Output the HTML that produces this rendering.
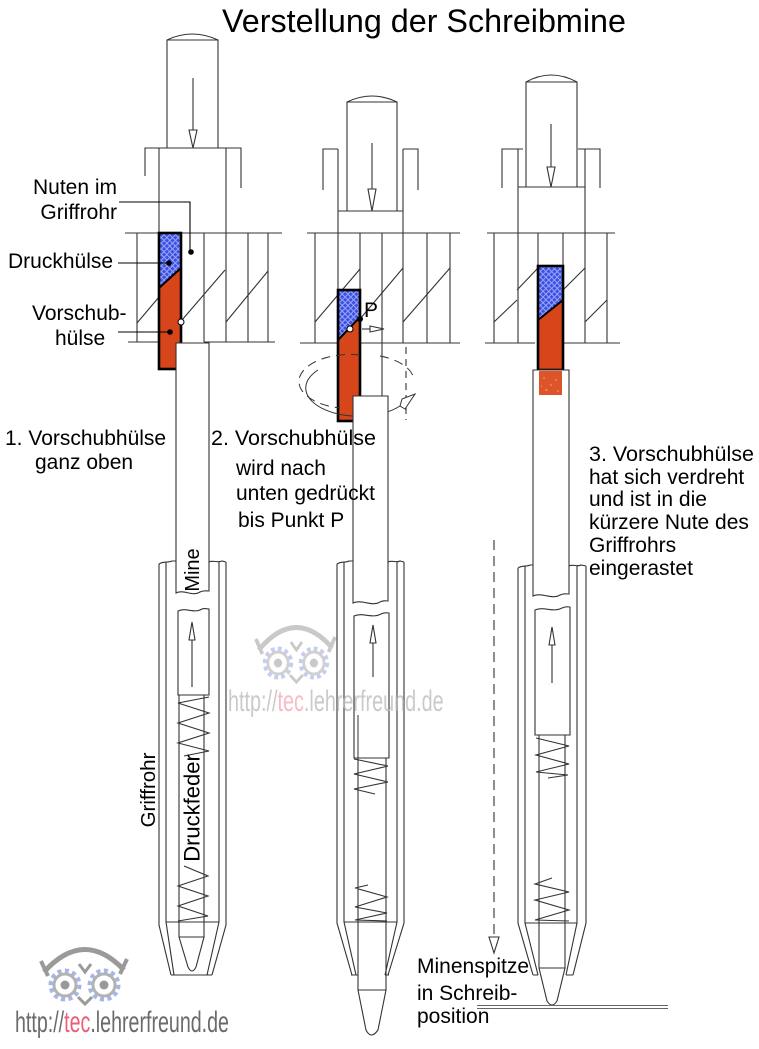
<!DOCTYPE html>
<html><head><meta charset="utf-8"><style>
html,body{margin:0;padding:0;background:#fff;}
svg{display:block;}
text{font-family:"Liberation Sans",Arial,sans-serif;}
</style></head><body>
<svg width="759" height="1049" viewBox="0 0 759 1049" xmlns="http://www.w3.org/2000/svg">
<defs>
<pattern id="xh" width="4" height="4" patternUnits="userSpaceOnUse" patternTransform="rotate(45)">
<rect width="4" height="4" fill="#3b4fe4"/>
<path d="M0,2 H4 M2,0 V4" stroke="#9aa6f4" stroke-width="1"/>
</pattern>
</defs>
<rect width="759" height="1049" fill="#fff"/>

<!-- bottom-left logo -->
<g>
<path d="M44,972 Q84,928 124,970" stroke="#9a9a9a" stroke-width="5" fill="none"/>
<path d="M41,961 L48,976 M127,959 L120,974" stroke="#9a9a9a" stroke-width="4"/>
<circle cx="65" cy="985" r="14" fill="none" stroke="#a7b6ea" stroke-width="5" stroke-dasharray="4 3.3"/>
<circle cx="65" cy="985" r="11" fill="#fff" stroke="#b3b3b3" stroke-width="3"/>
<circle cx="65" cy="985" r="4.5" fill="#999"/>
<circle cx="104" cy="985" r="14" fill="none" stroke="#a7b6ea" stroke-width="5" stroke-dasharray="4 3.3"/>
<circle cx="104" cy="985" r="11" fill="#fff" stroke="#b3b3b3" stroke-width="3"/>
<circle cx="104" cy="985" r="4.5" fill="#999"/>
<path d="M79,964 L85,972 L91,964 M78,997 L85,1004 L92,997" stroke="#9a9a9a" stroke-width="3" fill="none"/>
</g>
<text transform="translate(15,1032) scale(0.655,1)" font-size="30" fill="#6b6b6b">http://<tspan fill="#ec5f79">tec</tspan>.lehrerfreund.de</text>

<!-- Title -->
<text x="222" y="32" font-size="32.3" fill="#000">Verstellung der Schreibmine</text>

<g stroke="#333" stroke-width="1.1" fill="none">
<!-- ============ PEN 1 ============ -->
<path d="M167,148 V40 Q192,28 218,40 V148"/>
<path d="M167,40 H218"/>
<path d="M145,176 V148 H241 V188"/>
<path d="M159,148 V233 M226,148 V342"/>
<path d="M125,233 H282 M128,342 H159 M204,342 H275"/>
<path d="M137,233 V342 M181,233 V342 M204,233 V342 M248,233 V342 M268,233 V342"/>
<path d="M137,323 L159,297 M182,320 L225,270 M226,322 L268,271"/>
<path d="M159,564 C163,561 168,563 172,561 L176,561"/>
<path d="M209,562 C213,560 218,563 222,561 L226,562"/>
<path d="M159,564 V925 L171,975 M166,562 V922 L174,975 M226,562 V925 L212,975 M219,562 V922 L207,975 M171,975 H212 M166,922 H219"/>
<path d="M179,695 V937 M204,695 V937 M179,937 H204 L196,967 M179,937 L188,967 M188,967 Q192,975 196,967"/>
<path d="M209,697 L178,703 L209,713 L178,723 L209,733 L178,743 L209,751 L184,756"/>
<path d="M184,866 L208,876 L178,886 L208,896 L178,906 L208,916 L178,921"/>

<!-- ============ PEN 2 ============ -->
<path d="M347,211 V102 Q372,90 397,102 V211"/>
<path d="M347,102 H397"/>
<path d="M323,190 V149 H338 M418,190 V149 H403"/>
<path d="M338,149 V290 M403,149 V343 M338,211 H403"/>
<path d="M307,233 H460 M300,343 H338 M360,343 H460"/>
<path d="M315,233 V343 M360,233 V420 M382,233 V396 M427,233 V343 M450,233 V343"/>
<path d="M315,322 L360,269 M360,319 L403,268 M403,322 L450,268"/>
<path d="M406,347 V420" stroke-dasharray="7 5"/>
<path d="M337,564 C341,561 346,563 349,561 L353,561"/>
<path d="M388,562 C392,560 397,563 400,561 L404,562"/>
<path d="M337,564 V923 L352,975 M344,562 V922 L356,975 M404,562 V923 L388,975 M397,562 V922 L385,975 M351,975 H358 M385,975 H389 M344,922 H397"/>
<path d="M358,715 V990 M386,758 V990 M358,990 H386 L378,1030 M358,990 L366,1030 M366,1030 Q371,1040 378,1030"/>
<path d="M354,759 L388,766 L354,774 L388,782 L354,789 L375,794"/>
<path d="M368,885 L355,888 L387,897 L355,907 L387,913 L355,920 L387,921"/>

<!-- ============ PEN 3 ============ -->
<path d="M526,187 V82 Q551,68 577,82 V187"/>
<path d="M526,82 H577"/>
<path d="M502,188 V149 H523 M600,188 V149 H578"/>
<path d="M518,149 V343 M585,149 V343 M518,187 H585"/>
<path d="M487,233 H615 M485,343 H535 M563,343 H620"/>
<path d="M494,233 V343 M538,233 V266 M563,233 V266 M607,233 V343"/>
<path d="M494,322 L517,300 M517,290 L538,268 M563,290 L585,268 M585,322 L607,300"/>
<path d="M518,568 C522,565 527,567 530,565 L533,565"/>
<path d="M569,566 C573,564 578,567 581,565 L586,566"/>
<path d="M518,568 V923 L533,975 M525,566 V923 L538,975 M586,566 V923 L573,975 M577,566 V923 L566,975 M533,975 H538 M566,975 H573 M525,923 H577"/>
<path d="M539,735 V968 M565,735 V968 M539,968 H565 L557,1001 M539,968 L547,1001 M547,1001 Q552,1009 557,1001"/>
<path d="M536,738 L569,746 L536,755 L569,764 L536,772 L568,775 L548,778"/>
<path d="M552,878 L535,884 L569,892 L535,900 L569,910 L535,920 L569,921"/>
<path d="M477,1005.5 H668 M477,1008.5 H668" stroke="#666"/>
<path d="M494,540 V937" stroke-dasharray="10 6"/>
<path d="M489,937 L499,937 L494,953 Z" fill="#fff"/>
</g>

<!-- sleeves -->
<polygon points="159,233 181,233 181,268 159,288" fill="url(#xh)"/>
<polygon points="159,288 181,268 181,369 159,369" fill="#d6461a"/>
<rect x="159" y="233" width="22" height="136" fill="none" stroke="#000" stroke-width="2.6"/>
<line x1="159" y1="288" x2="181" y2="268" stroke="#000" stroke-width="2"/>
<polygon points="338,290 360,290 360,317 338,340" fill="url(#xh)"/>
<polygon points="338,340 360,317 360,421 338,421" fill="#d6461a"/>
<rect x="338" y="290" width="22" height="131" fill="none" stroke="#000" stroke-width="2.6"/>
<line x1="338" y1="340" x2="360" y2="317" stroke="#000" stroke-width="2"/>
<polygon points="538,266 563,266 563,300 538,320" fill="url(#xh)"/>
<polygon points="538,320 563,300 563,370 538,370" fill="#d6461a"/>
<rect x="538" y="266" width="25" height="104" fill="none" stroke="#000" stroke-width="2.6"/>
<line x1="538" y1="320" x2="563" y2="300" stroke="#000" stroke-width="2"/>

<!-- rotation ellipse pen 2 -->
<g stroke="#333" stroke-width="1" fill="none">
<path d="M360,355 A51,27 0 0 0 340,408" stroke-dasharray="9 6"/>
<path d="M318,370 A51,27 0 0 0 400,406"/>
<path d="M380,356 A51,27 0 0 1 414,380" stroke-dasharray="9 6"/>
<path d="M400,406 L402,399 L415,394 L405,409 Z" fill="#fff"/>
</g>

<!-- mines -->
<g stroke="#333" stroke-width="1.1" fill="#fff">
<path d="M176,343 L176,593 C184,589 192,597 200,592 C204,590 207,591 209,591 L209,343 Z"/>
<path d="M178,695 L178,611 C186,607 194,614 202,609 C205,608 207,609 209,609 L209,695 Z"/>
<path d="M353,396 L353,603 C362,599 372,607 380,602 C384,600 386,601 388,601 L388,396 Z"/>
<path d="M354,758 L354,616 C363,612 372,619 381,614 C385,612 387,613 389,613 L389,758 Z"/>
<path d="M533,370 L533,596 C542,592 552,600 560,595 C564,593 566,594 569,594 L569,370 Z"/>
<path d="M535,735 L535,610 C544,606 553,613 562,608 C566,606 568,607 570,607 L570,735 Z"/>
</g>
<rect x="539" y="371" width="23" height="24" fill="#dc5428"/>
<path d="M543,378 h2 M550,385 h2 M545,390 h3 M555,380 h2 M557,391 h2 M541,386 h1" stroke="#f0a080" stroke-width="1"/>
<line x1="358" y1="715" x2="358" y2="758" stroke="#333" stroke-width="1"/>

<!-- arrows -->
<g stroke="#333" stroke-width="1.1" fill="#fff">
<line x1="193" y1="78" x2="193" y2="130"/>
<path d="M189,130 L197,130 L193,148 Z"/>
<line x1="372" y1="143" x2="372" y2="189"/>
<path d="M368,189 L376,189 L372,211 Z"/>
<line x1="551" y1="124" x2="551" y2="167"/>
<path d="M547,167 L555,167 L551,187 Z"/>
<line x1="192" y1="640" x2="192" y2="687"/>
<path d="M192,622 L189,640 L195,640 Z"/>
<line x1="373" y1="643" x2="373" y2="677"/>
<path d="M373,625 L370,643 L376,643 Z"/>
<line x1="552" y1="645" x2="552" y2="683"/>
<path d="M552,627 L549,645 L555,645 Z"/>
<line x1="362" y1="329" x2="370" y2="329"/>
<path d="M370,326 L384,329 L370,332 Z"/>
</g>

<!-- middle watermark (on top, translucent) -->
<g opacity="0.45">
<g transform="translate(255,623) scale(0.92,1) translate(-40,-945)">
<path d="M44,972 Q84,928 124,970" stroke="#8a8a8a" stroke-width="5" fill="none"/>
<path d="M41,961 L48,976 M127,959 L120,974" stroke="#8a8a8a" stroke-width="4"/>
<circle cx="65" cy="985" r="14" fill="none" stroke="#7d93e0" stroke-width="5" stroke-dasharray="4 3.3"/>
<circle cx="65" cy="985" r="11" fill="none" stroke="#9a9a9a" stroke-width="3"/>
<circle cx="65" cy="985" r="4.5" fill="#888"/>
<circle cx="104" cy="985" r="14" fill="none" stroke="#7d93e0" stroke-width="5" stroke-dasharray="4 3.3"/>
<circle cx="104" cy="985" r="11" fill="none" stroke="#9a9a9a" stroke-width="3"/>
<circle cx="104" cy="985" r="4.5" fill="#888"/>
<path d="M79,964 L85,972 L91,964 M78,997 L85,1004 L92,997" stroke="#8a8a8a" stroke-width="3" fill="none"/>
</g>
</g>
<text transform="translate(228,711) scale(0.66,1)" font-size="30" fill="#b8b8b8" fill-opacity="0.75">http://<tspan fill="#f4a5b3">tec</tspan>.lehrerfreund.de</text>

<!-- dots and pointers -->
<g stroke="#000" stroke-width="1.1">
<path d="M119,202 H190 V250" fill="none"/>
<path d="M118,263 H169 M118,332 H170" fill="none"/>
</g>
<circle cx="191" cy="252" r="2.8" fill="#000"/>
<circle cx="169" cy="263" r="2.8" fill="#000"/>
<circle cx="170" cy="332" r="2.8" fill="#000"/>
<circle cx="181" cy="322" r="3" fill="#fff" stroke="#000" stroke-width="1"/>
<circle cx="360" cy="319" r="3" fill="#000"/>
<circle cx="350" cy="329" r="3" fill="#fff" stroke="#000" stroke-width="1"/>

<!-- labels -->
<g font-size="21" fill="#000">
<text x="117" y="194" text-anchor="end">Nuten im</text>
<text x="117" y="219" text-anchor="end">Griffrohr</text>
<text x="8" y="268">Druckhülse</text>
<text x="32" y="320">Vorschub-</text>
<text x="55" y="345">hülse</text>
<text x="5" y="445">1. Vorschubhülse</text>
<text x="35" y="469">ganz oben</text>
<text x="211" y="445" font-size="21.5">2. Vorschubhülse</text>
<text x="236" y="475">wird nach</text>
<text x="236" y="500">unten gedrückt</text>
<text x="238" y="527">bis Punkt P</text>
<text x="589" y="461" font-size="21.5">3. Vorschubhülse</text>
<text x="589" y="484">hat sich verdreht</text>
<text x="589" y="506">und ist in die</text>
<text x="589" y="529">kürzere Nute des</text>
<text x="589" y="552">Griffrohrs</text>
<text x="589" y="575">eingerastet</text>
<text x="417" y="973">Minenspitze</text>
<text x="417" y="1000">in Schreib-</text>
<text x="417" y="1023">position</text>
<text x="364" y="317" font-size="21">P</text>
<text transform="translate(192,570) rotate(-90)" y="7" text-anchor="middle" font-size="20">Mine</text>
<text transform="translate(192,808) rotate(-90)" y="7.5" text-anchor="middle" font-size="22">Druckfeder</text>
<text transform="translate(148,790) rotate(-90)" y="7" text-anchor="middle" font-size="20.5">Griffrohr</text>
</g>
</svg>
</body></html>
